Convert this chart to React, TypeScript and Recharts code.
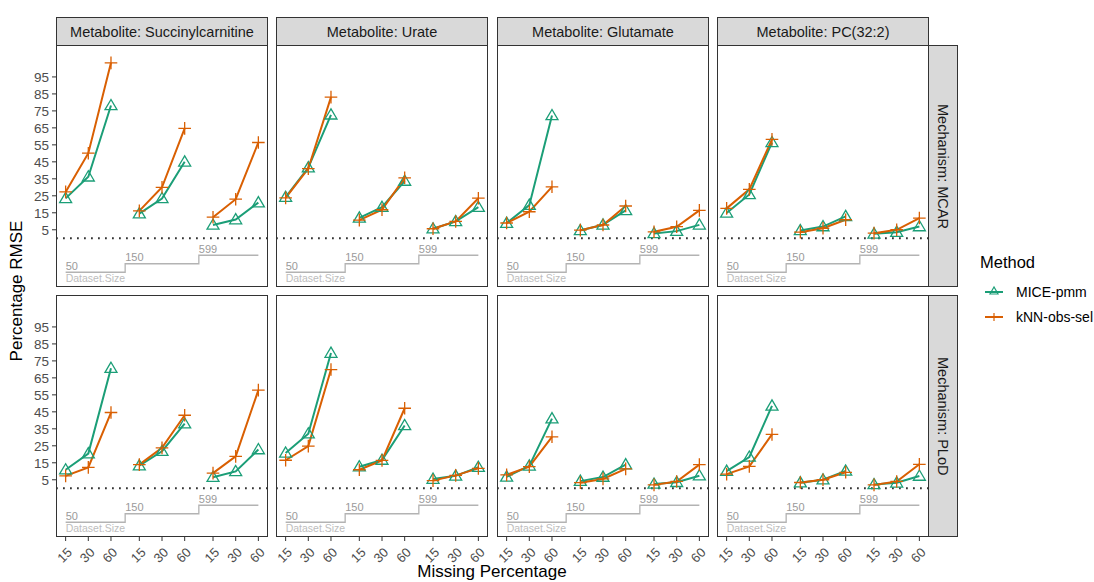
import { Line, LineChart, ReferenceLine, XAxis, YAxis } from "recharts";

const metabolites = ["Succinylcarnitine", "Urate", "Glutamate", "PC(32:2)"];
const mechanisms = ["MCAR", "PLoD"];
const missingPct = [15, 30, 60];
const datasetSizes = [50, 150, 599];
const yTicks = [5, 15, 25, 35, 45, 55, 65, 75, 85, 95];

// one array per metabolite, ordered by dataset size (50, 150, 599) then missing % (15, 30, 60)
const miceMcar = [
  [23.5, 36.2, 78.2, 14.5, 23.4, 45, 7.8, 11, 21],
  [24.2, 41.6, 72.7, 12, 18.3, 33.7, 5.6, 9.9, 18.3],
  [8.9, 19.5, 72.3, 4.6, 7.9, 16.4, 2.8, 4.2, 7.9],
  [14.9, 25.8, 56.4, 4.6, 6.9, 12.9, 2.6, 3.6, 6.9],
];
const knnMcar = [
  [27.3, 50.1, 103.3, 16.1, 30, 64.7, 12.4, 23, 56.4],
  [23.8, 41, 83.1, 10.7, 16.8, 35.6, 5.6, 9.9, 23.6],
  [9, 15.6, 30.3, 4.8, 7.8, 19, 3.8, 6.8, 16.4],
  [17.6, 28.8, 58.2, 3.6, 5.9, 10.9, 3, 5, 11.9],
];
const micePlod = [
  [10.9, 20.4, 70.7, 13.3, 21.8, 38, 6.5, 9.9, 22.8],
  [20.8, 32.1, 79.6, 12.7, 16.6, 37, 5.4, 7.3, 12.4],
  [6.7, 13.2, 41, 4.2, 6.6, 13.9, 2.5, 3.5, 7.4],
  [10.1, 18.4, 48.5, 3.3, 5, 10.2, 2.2, 3.2, 7.2],
];
const knnPlod = [
  [7.3, 12.3, 44.6, 13.9, 23.8, 43, 8.9, 18.8, 57.8],
  [16.5, 24.8, 69.9, 10.9, 16.4, 47.1, 4.5, 7.6, 11.7],
  [7.9, 12.7, 30.3, 3.3, 5.5, 11.4, 2, 4, 13.9],
  [8.3, 12.9, 31.7, 3.4, 5, 9.4, 2, 4, 14.1],
];

const GREEN = "#1b9e77";
const ORANGE = "#d95f02";
const FONT = "'Liberation Sans', Arial, sans-serif";

const GROUP_GAP = 1.25;
const X_DOMAIN = [0.575, 9.925];
const Y_DOMAIN = [-28.7, 113.8];

const PANEL_W = 212;
const PANEL_H = 242;
const PANEL_LEFT = [56, 276, 497, 717];
const ROW_TOP = [45, 295];
const Y_AXIS_W = 56;
const X_AXIS_H = 40;
const PAD = 12;

function xPos(g: number, i: number) {
  return 1 + g * (missingPct.length - 1 + GROUP_GAP) + i;
}

const xTicks: number[] = [];
const xTickLabel: Record<string, string> = {};
datasetSizes.forEach((_, g) =>
  missingPct.forEach((p, i) => {
    xTicks.push(xPos(g, i));
    xTickLabel[String(xPos(g, i))] = String(p);
  })
);

interface Row {
  x: number;
  mice: number | null;
  knn: number | null;
  guide: number;
  guideLabel?: string;
}

function buildRows(mice: number[], knn: number[]): Row[] {
  const rows: Row[] = [];
  const n = missingPct.length;
  datasetSizes.forEach((size, g) => {
    const level = -20 + 5 * g;
    if (g > 0) {
      rows.push({ x: xPos(g, 0) - GROUP_GAP / 2, mice: null, knn: null, guide: level, guideLabel: String(size) });
    }
    missingPct.forEach((_, i) => {
      rows.push({
        x: xPos(g, i),
        mice: mice[g * n + i],
        knn: knn[g * n + i],
        guide: level,
        guideLabel: g === 0 && i === 0 ? String(size) : undefined,
      });
    });
    if (g < datasetSizes.length - 1) {
      rows.push({ x: xPos(g, n - 1) + GROUP_GAP / 2, mice: null, knn: null, guide: level });
    }
  });
  return rows;
}

function Triangle(props: any) {
  const { cx, cy, index, value } = props;
  if (value == null || cx == null || cy == null) return <g key={`t${index}`} />;
  return (
    <polygon
      key={`t${index}`}
      points={`${cx},${cy - 6} ${cx - 6},${cy + 4.2} ${cx + 6},${cy + 4.2}`}
      fill="none"
      stroke={GREEN}
      strokeWidth={1.3}
    />
  );
}

function Cross(props: any) {
  const { cx, cy, index, value } = props;
  if (value == null || cx == null || cy == null) return <g key={`c${index}`} />;
  const a = 6.3;
  return (
    <path
      key={`c${index}`}
      d={`M${cx - a},${cy}H${cx + a}M${cx},${cy - a}V${cy + a}`}
      stroke={ORANGE}
      strokeWidth={1.3}
      fill="none"
    />
  );
}

function XTick(props: any) {
  const { x, y, payload } = props;
  return (
    <g transform={`translate(${x + 4},${y + 7})`}>
      <text
        textAnchor="end"
        transform="rotate(-45)"
        fontSize={13}
        fill="#4d4d4d"
        fontFamily={FONT}
        dy="0.35em"
      >
        {xTickLabel[String(payload.value)]}
      </text>
    </g>
  );
}

function Panel({ row, col }: { row: number; col: number }) {
  const mice = row === 0 ? miceMcar[col] : micePlod[col];
  const knn = row === 0 ? knnMcar[col] : knnPlod[col];
  const data = buildRows(mice, knn);
  const showY = col === 0;
  const showX = row === 1;
  const leftPad = showY ? 0 : PAD;
  const axisW = showY ? Y_AXIS_W : 0;
  const width = PANEL_W + axisW + leftPad;
  const height = PANEL_H + (showX ? X_AXIS_H : 0);
  const left = PANEL_LEFT[col] - axisW - leftPad;

  const guideLabel = (p: any) => {
    const r = data[p.index];
    if (!r || !r.guideLabel) return <g key={`gl${p.index}`} />;
    return (
      <g key={`gl${p.index}`}>
        <text x={p.x} y={p.y - 2.5} fontSize={11} fill="#9a9a9a" fontFamily={FONT}>
          {r.guideLabel}
        </text>
        {p.index === 0 && (
          <text x={p.x} y={p.y + 10} fontSize={10.5} fill="#bdbdbd" fontFamily={FONT}>
            Dataset.Size
          </text>
        )}
      </g>
    );
  };

  return (
    <div style={{ position: "absolute", left, top: ROW_TOP[row] }}>
      <LineChart width={width} height={height} data={data} margin={{ top: 0, right: 0, bottom: 0, left: leftPad }}>
        <XAxis
          dataKey="x"
          type="number"
          domain={X_DOMAIN}
          allowDataOverflow
          ticks={xTicks}
          hide={!showX}
          height={X_AXIS_H}
          tickSize={4}
          tickMargin={2}
          axisLine={false}
          tickLine={{ stroke: "#333" }}
          tick={<XTick />}
          interval={0}
        />
        <YAxis
          type="number"
          domain={Y_DOMAIN}
          allowDataOverflow
          ticks={yTicks}
          hide={!showY}
          width={Y_AXIS_W}
          tickSize={4}
          tickMargin={3}
          axisLine={false}
          tickLine={{ stroke: "#333" }}
          tick={{ fill: "#4d4d4d", fontSize: 13.5, fontFamily: FONT }}
          interval={0}
        />
        <Line
          dataKey="guide"
          type="linear"
          stroke="#b3b3b3"
          strokeWidth={1.3}
          dot={false}
          activeDot={false}
          label={guideLabel}
          isAnimationActive={false}
        />
        <ReferenceLine y={0} stroke="#333" strokeWidth={1.8} strokeDasharray="1.8 5.2" />
        <Line
          dataKey="mice"
          type="linear"
          stroke={GREEN}
          strokeWidth={2}
          dot={Triangle}
          activeDot={false}
          connectNulls={false}
          isAnimationActive={false}
        />
        <Line
          dataKey="knn"
          type="linear"
          stroke={ORANGE}
          strokeWidth={2}
          dot={Cross}
          activeDot={false}
          connectNulls={false}
          isAnimationActive={false}
        />
      </LineChart>
      <div
        style={{
          position: "absolute",
          left: axisW + leftPad,
          top: 0,
          width: PANEL_W,
          height: PANEL_H,
          border: "1px solid #333",
          boxSizing: "border-box",
          pointerEvents: "none",
        }}
      />
    </div>
  );
}

export default function App() {
  return (
    <div
      style={{
        position: "absolute",
        left: 0,
        top: 0,
        width: 1094,
        height: 582,
        background: "#fff",
        fontFamily: FONT,
        overflow: "hidden",
      }}
    >
      {metabolites.map((m, col) => (
        <div
          key={m}
          style={{
            position: "absolute",
            left: PANEL_LEFT[col],
            top: 17,
            width: PANEL_W,
            height: 29,
            background: "#d9d9d9",
            border: "1px solid #333",
            boxSizing: "border-box",
            display: "flex",
            alignItems: "center",
            justifyContent: "center",
            fontSize: 14.5,
            color: "#1a1a1a",
          }}
        >
          Metabolite: {m}
        </div>
      ))}
      {mechanisms.map((mech, row) => (
        <div
          key={mech}
          style={{
            position: "absolute",
            left: PANEL_LEFT[3] + PANEL_W - 1,
            top: ROW_TOP[row],
            width: 30,
            height: PANEL_H,
            background: "#d9d9d9",
            border: "1px solid #333",
            boxSizing: "border-box",
            display: "flex",
            alignItems: "center",
            justifyContent: "center",
            writingMode: "vertical-rl",
            fontSize: 14.5,
            color: "#1a1a1a",
          }}
        >
          Mechanism: {mech}
        </div>
      ))}
      {mechanisms.map((_, row) =>
        metabolites.map((__, col) => <Panel key={`${row}-${col}`} row={row} col={col} />)
      )}
      <div
        style={{
          position: "absolute",
          left: 17 - 100,
          top: 291 - 12,
          width: 200,
          height: 24,
          transform: "rotate(-90deg)",
          textAlign: "center",
          fontSize: 17,
          lineHeight: "24px",
          color: "#000",
        }}
      >
        Percentage RMSE
      </div>
      <div
        style={{
          position: "absolute",
          left: 492 - 150,
          top: 561,
          width: 300,
          textAlign: "center",
          fontSize: 17,
          lineHeight: "22px",
          color: "#000",
        }}
      >
        Missing Percentage
      </div>
      <div style={{ position: "absolute", left: 980, top: 251, fontSize: 16.5, lineHeight: "22px" }}>Method</div>
      <svg style={{ position: "absolute", left: 980, top: 278 }} width={30} height={52}>
        <line x1={5} x2={23} y1={14} y2={14} stroke={GREEN} strokeWidth={2} />
        <polygon points="14,9 10,16 18,16" fill="none" stroke={GREEN} strokeWidth={1.2} />
        <line x1={5} x2={23} y1={39} y2={39} stroke={ORANGE} strokeWidth={2} />
        <path d="M10,39H18M14,35V43" stroke={ORANGE} strokeWidth={1.2} />
      </svg>
      <div style={{ position: "absolute", left: 1016, top: 283, fontSize: 14, lineHeight: "18px" }}>MICE-pmm</div>
      <div style={{ position: "absolute", left: 1016, top: 308, fontSize: 14, lineHeight: "18px" }}>kNN-obs-sel</div>
    </div>
  );
}
